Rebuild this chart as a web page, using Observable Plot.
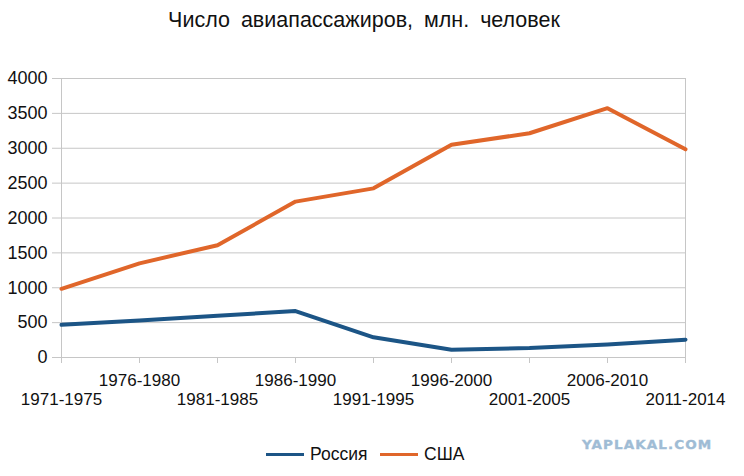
<!DOCTYPE html>
<html><head><meta charset="utf-8">
<script src="https://cdn.jsdelivr.net/npm/d3@7"></script>
<script src="https://cdn.jsdelivr.net/npm/@observablehq/plot@0.6"></script>
<style>
body{margin:0;background:#fff;}
#wrap{position:relative;width:744px;height:476px;font-family:"Liberation Sans",Arial,Helvetica,sans-serif;color:#111;background:#fff;overflow:hidden;}
#title{position:absolute;top:7px;left:0;width:728px;text-align:center;font-size:21.5px;word-spacing:5px;line-height:26px;}
#chart{position:absolute;top:0;left:0;}
.item{position:absolute;top:443px;font-size:17.5px;line-height:22px;display:flex;align-items:center;white-space:nowrap;}
.sw{display:inline-block;width:38px;height:3px;margin-right:6px;}
#wm{position:absolute;top:436px;left:582px;font-size:15px;font-weight:900;letter-spacing:1.1px;color:#9fbcd5;font-family:"DejaVu Sans Condensed","Liberation Sans",Arial,sans-serif;transform:scaleY(0.8);transform-origin:left center;-webkit-text-stroke:0.4px #9fbcd5;}
</style>
</head><body>
<div id="wrap">
  <div id="title">Число авиапассажиров, млн. человек</div>
  <div id="chart"></div>
  <div id="legend"></div>
  <div id="wm">YAPLAKAL.COM</div>
</div>
<script>
const categories = ["1971-1975","1976-1980","1981-1985","1986-1990","1991-1995","1996-2000","2001-2005","2006-2010","2011-2014"];
const russia = [468, 530, 600, 665, 290, 110, 135, 185, 255];
const usa = [985, 1350, 1610, 2235, 2425, 3050, 3215, 3575, 2985];
const seriesNames = ["Россия","США"];
const seriesColors = ["#1c5586","#e0662a"];
const yTicks = [0,500,1000,1500,2000,2500,3000,3500,4000];

const rows = [];
categories.forEach((c,i)=>{
  rows.push({period:c, series:seriesNames[0], value:russia[i]});
  rows.push({period:c, series:seriesNames[1], value:usa[i]});
});

const grid = "#c6c6c6";
const chart = Plot.plot({
  width:744, height:476,
  marginTop:78, marginBottom:119, marginLeft:59, marginRight:58,
  x:{type:"point", domain:categories, padding:0},
  y:{domain:[0,4000]},
  color:{domain:seriesNames, range:seriesColors},
  style:{fontFamily:"Liberation Sans, Arial, Helvetica, sans-serif", fontSize:"17px", color:"#111", background:"transparent"},
  marks:[
    Plot.gridY(yTicks, {stroke:grid, strokeOpacity:1}),
    Plot.ruleX([categories[0], categories[categories.length-1]], {stroke:grid}),
    Plot.axisY(yTicks, {tickSize:7, tickPadding:5, stroke:grid, fontSize:18, label:null, tickFormat:d=>String(d)}),
    Plot.axisX(categories, {tickSize:6, stroke:grid, fill:"none", label:null}),
    Plot.axisX(categories.filter((d,i)=>i%2===1), {tickSize:0, tickPadding:16, fontSize:17, label:null}),
    Plot.axisX(categories.filter((d,i)=>i%2===0), {tickSize:0, tickPadding:35, fontSize:17, label:null}),
    Plot.lineY(rows, {x:"period", y:"value", stroke:"series", z:"series", strokeWidth:4, strokeLinejoin:"round"})
  ]
});
document.getElementById("chart").appendChild(chart);

const leg = document.getElementById("legend");
const legLeft = [266, 380];
seriesNames.forEach((n,i)=>{
  const it = document.createElement("div");
  it.className="item";
  it.style.left = legLeft[i] + "px";
  const sw = document.createElement("span");
  sw.className="sw"; sw.style.background=seriesColors[i];
  const t = document.createElement("span"); t.textContent=n;
  it.appendChild(sw); it.appendChild(t);
  leg.appendChild(it);
});
</script>
</body></html>
